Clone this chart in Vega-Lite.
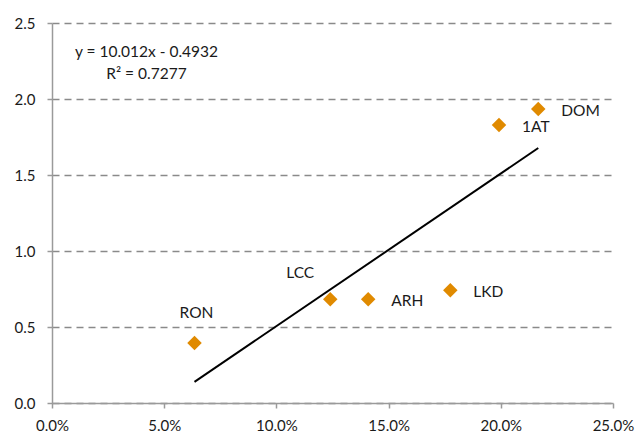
{
  "$schema": "https://vega.github.io/schema/vega-lite/v6.json",
  "width": 561,
  "height": 380,
  "autosize": {"type": "none"},
  "padding": {"left": 52, "top": 23, "right": 25, "bottom": 32},
  "background": "white",
  "config": {
    "view": {"stroke": null},
    "font": "Lato",
    "axis": {
      "labelFont": "Lato",
      "labelFontSize": 15,
      "labelColor": "#1a1a1a",
      "domainColor": "#9a9a9a",
      "domainWidth": 1.5,
      "tickColor": "#9a9a9a",
      "tickWidth": 1.5,
      "tickSize": 5,
      "title": null
    }
  },
  "datasets": {
    "airlines": [
      {"name": "RON", "share": 0.0635, "ratio": 0.394},
      {"name": "LCC", "share": 0.124, "ratio": 0.683},
      {"name": "ARH", "share": 0.1409, "ratio": 0.683},
      {"name": "LKD", "share": 0.1775, "ratio": 0.742},
      {"name": "1AT", "share": 0.1992, "ratio": 1.829},
      {"name": "DOM", "share": 0.2167, "ratio": 1.934}
    ],
    "equation": [
      {"share": 0.0421, "ratio": 2.307, "text": "y = 10.012x - 0.4932"},
      {"share": 0.0421, "ratio": 2.164, "text": "R² = 0.7277"}
    ]
  },
  "encoding": {
    "x": {
      "field": "share",
      "type": "quantitative",
      "scale": {"domain": [0, 0.25], "nice": false, "zero": true},
      "axis": {
        "values": [0, 0.05, 0.1, 0.15, 0.2, 0.25],
        "format": ".1%",
        "grid": false,
        "labelPadding": 10,
        "labelFlush": false
      }
    },
    "y": {
      "field": "ratio",
      "type": "quantitative",
      "scale": {"domain": [0, 2.5], "nice": false},
      "axis": {
        "values": [0, 0.5, 1, 1.5, 2, 2.5],
        "format": ".1f",
        "grid": true,
        "gridColor": "#8a8a8a",
        "gridWidth": 1.5,
        "gridDash": [7, 5],
        "labelPadding": 12,
        "labelFlush": false
      }
    }
  },
  "layer": [
    {
      "data": {"name": "airlines"},
      "transform": [{"regression": "ratio", "on": "share"}],
      "mark": {"type": "line", "color": "#000000", "strokeWidth": 2}
    },
    {
      "data": {"name": "airlines"},
      "mark": {"type": "point", "shape": "diamond", "filled": true, "size": 210, "color": "#E08A00", "opacity": 1}
    },
    {
      "data": {"name": "airlines"},
      "transform": [{"filter": "indexof(['ARH','LKD','1AT','DOM'], datum.name) >= 0"}],
      "mark": {"type": "text", "align": "left", "baseline": "middle", "dx": 23, "dy": 2, "fontSize": 15.5, "color": "#1a1a1a"},
      "encoding": {"text": {"field": "name"}}
    },
    {
      "data": {"name": "airlines"},
      "transform": [{"filter": "datum.name === 'RON'"}],
      "mark": {"type": "text", "align": "center", "baseline": "middle", "dx": 2, "dy": -30, "fontSize": 15.5, "color": "#1a1a1a"},
      "encoding": {"text": {"field": "name"}}
    },
    {
      "data": {"name": "airlines"},
      "transform": [{"filter": "datum.name === 'LCC'"}],
      "mark": {"type": "text", "align": "center", "baseline": "middle", "dx": -30, "dy": -26, "fontSize": 15.5, "color": "#1a1a1a"},
      "encoding": {"text": {"field": "name"}}
    },
    {
      "data": {"name": "equation"},
      "mark": {"type": "text", "align": "center", "baseline": "middle", "fontSize": 15.5, "color": "#1a1a1a"},
      "encoding": {"text": {"field": "text"}}
    }
  ]
}
